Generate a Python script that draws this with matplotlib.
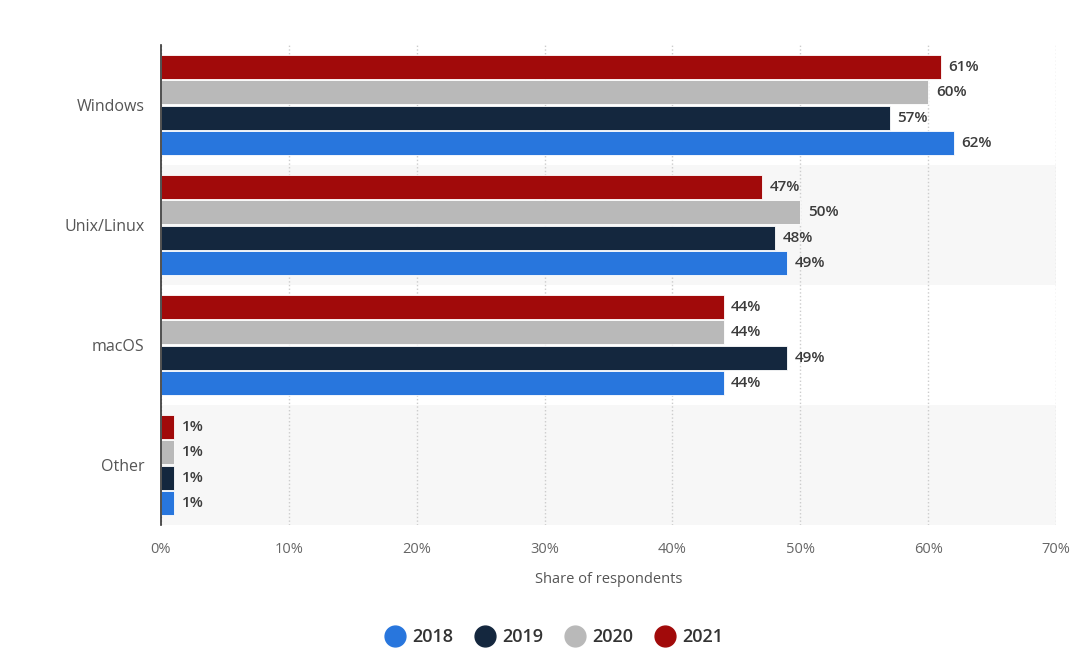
import numpy as np
import matplotlib
matplotlib.use('agg')
import matplotlib.pyplot as plt
from matplotlib.lines import Line2D

plt.rcParams['font.family'] = ['Open Sans', 'DejaVu Sans']

categories = ['Windows', 'Unix/Linux', 'macOS', 'Other']
years = ['2018', '2019', '2020', '2021']
share_2018 = [62, 49, 44, 1]
share_2019 = [57, 48, 49, 1]
share_2020 = [60, 50, 44, 1]
share_2021 = [61, 47, 44, 1]
colors = ['#2876dd', '#14273e', '#b9b9b9', '#a10a0a']

series = [share_2018, share_2019, share_2020, share_2021]

fig = plt.figure(figsize=(10.71, 6.5), dpi=100)
ax = fig.add_axes([0.1503, 0.1923, 0.8357, 0.7385])

y = np.arange(len(categories))
bar_h = 0.2
gap = 0.012
# 2021 on top, 2018 at bottom of each group
offsets = [1.5, 0.5, -0.5, -1.5]

for i in range(len(categories)):
    if i % 2 == 1:
        ax.axhspan(i - 0.5, i + 0.5, color='#f7f7f7', zorder=0, lw=0)

for s, vals in enumerate(series):
    pos = y + offsets[s] * (bar_h + gap)
    ax.barh(pos, vals, height=bar_h, color=colors[s], zorder=3,
            edgecolor='white', linewidth=0.6)
    for p, v in zip(pos, vals):
        ax.text(v + 0.6, p, f'{v}%', va='center', ha='left', fontsize=11,
                fontweight='semibold', color='#3c3c3c', zorder=4)

ax.set_ylim(len(categories) - 0.5, -0.5)
ax.set_xlim(0, 70)
ax.set_yticks(y)
ax.set_yticklabels(categories, fontsize=11.5, color='#555555')
ax.set_xticks(range(0, 71, 10))
ax.set_xticklabels([f'{t}%' for t in range(0, 71, 10)], fontsize=10.5, color='#666666')
ax.tick_params(axis='both', length=0)
ax.tick_params(axis='x', pad=12)
ax.tick_params(axis='y', pad=12)

ax.grid(axis='x', linestyle=':', color='#cccccc', linewidth=1, zorder=1)
for side in ['top', 'right', 'bottom']:
    ax.spines[side].set_visible(False)
ax.spines['left'].set_color('#333333')
ax.spines['left'].set_linewidth(1.2)
ax.spines['left'].set_zorder(5)

ax.set_xlabel('Share of respondents', fontsize=10.5, color='#555555', labelpad=11)

handles = [Line2D([0], [0], marker='o', linestyle='', markersize=15,
                  markerfacecolor=c, markeredgecolor=c) for c in colors]
fig.legend(handles, years, loc='center', bbox_to_anchor=(0.517, 0.02),
           ncol=4, frameon=False, handletextpad=0.35, handlelength=1.2,
           columnspacing=1.15, prop={'size': 13, 'weight': 'semibold'})
for t in fig.legends[0].get_texts():
    t.set_color('#333333')

fig.savefig('out.png', dpi=100, facecolor='white')
